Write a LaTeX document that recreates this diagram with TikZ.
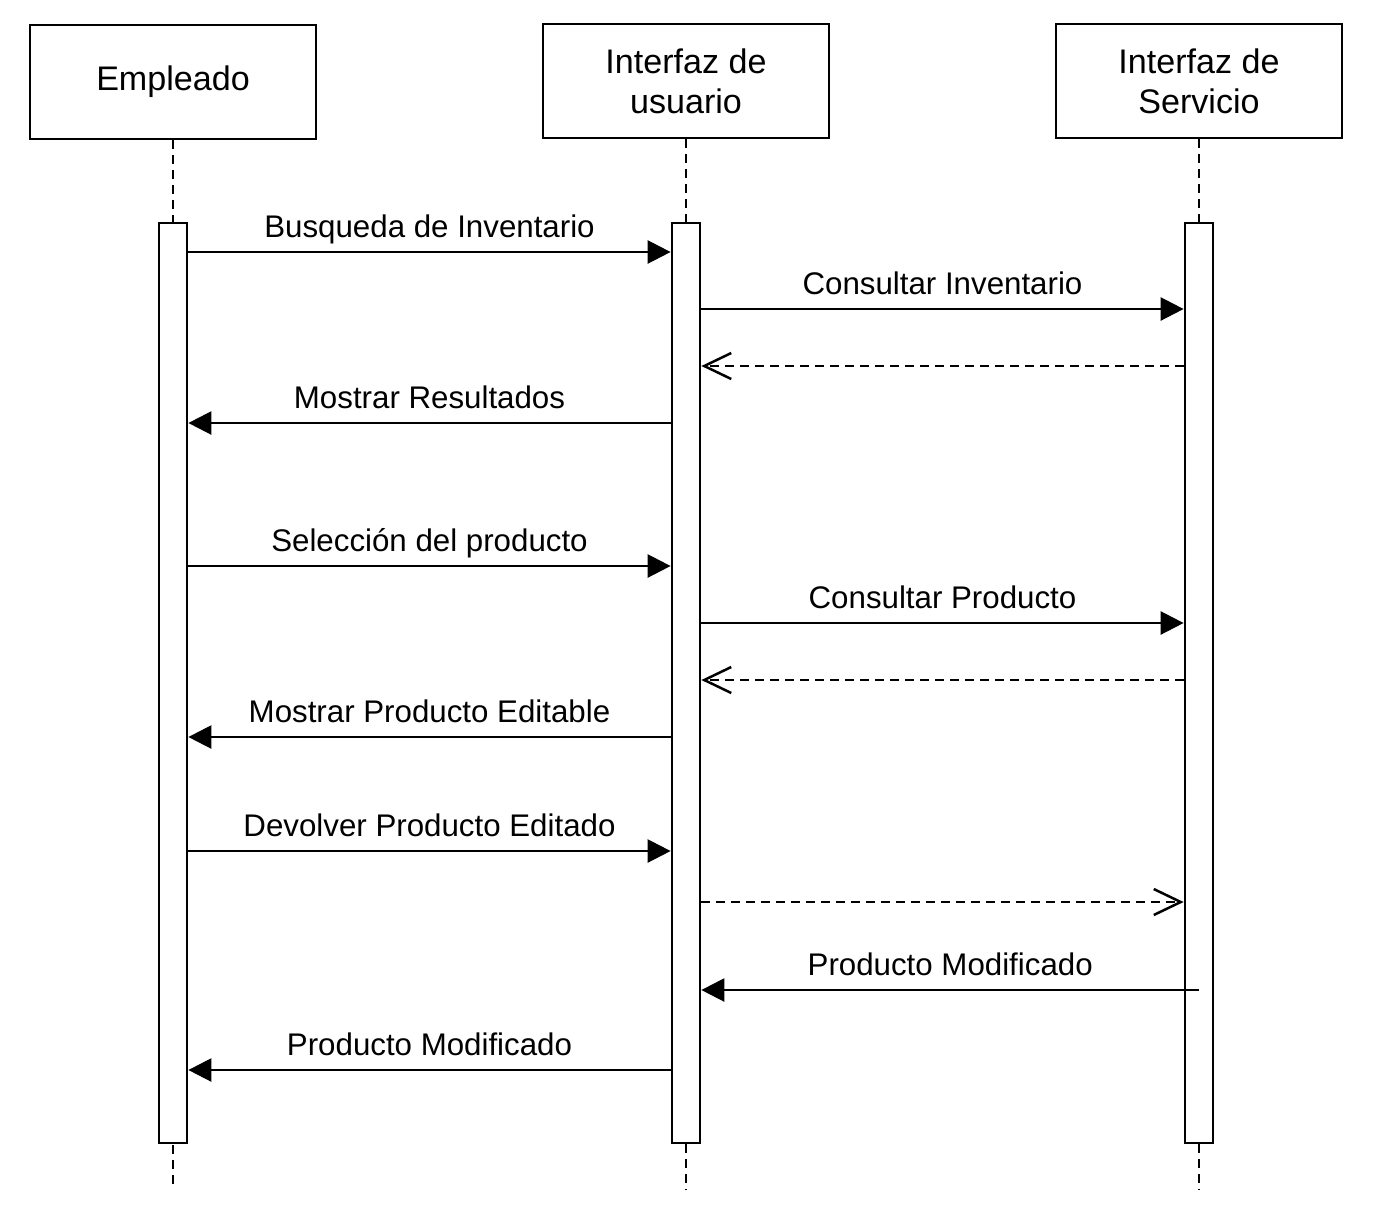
\documentclass[tikz,border=0pt]{standalone}
\usepackage{fontspec}
\setmainfont{Liberation Sans}
\usetikzlibrary{arrows.meta}

\begin{document}
\begin{tikzpicture}[x=0.02cm,y=-0.02cm,
  actor/.style={draw,line width=0.055cm,minimum width=5.72cm,minimum height=2.28cm,align=center,font=\fontsize{19.4}{22.8}\selectfont},
  bar/.style={draw,fill=white,line width=0.055cm,minimum width=0.56cm,minimum height=18.4cm,inner sep=0pt},
  life/.style={line width=0.05cm,dash pattern=on 0.18cm off 0.12cm},
  call/.style={line width=0.05cm,-{Triangle[length=0.46cm,width=0.46cm]}},
  reply/.style={line width=0.05cm,dash pattern=on 0.18cm off 0.12cm,-{Straight Barb[length=0.54cm,width=0.52cm,line width=0.05cm]}},
  lbl/.style={anchor=base,yshift=0.3cm,inner sep=0pt,font=\fontsize{17.8}{20}\selectfont}]
%\draw[style=help lines] (0,0) grid (1390,1225);
\useasboundingbox (0,0) rectangle (1390,1225);

\node[actor] (emp) at (173,82) {Empleado};
\node[actor] (ui) at (686,81) {Interfaz de\\usuario};
\node[actor] (srv) at (1199,81) {Interfaz de\\Servicio};

\coordinate (empend) at (173,1190);
\coordinate (uiend) at (686,1190);
\coordinate (srvend) at (1199,1190);
\draw[life] (emp.south) -- (empend);
\draw[life] (ui.south) -- (uiend);
\draw[life] (srv.south) -- (srvend);

\node[bar] (empbar) at (173,683) {};
\node[bar] (uibar) at (686,683) {};
\node[bar] (srvbar) at (1199,683) {};

\coordinate (m1) at (0,252);
\coordinate (m2) at (0,309);
\coordinate (m3) at (0,366);
\coordinate (m4) at (0,423);
\coordinate (m5) at (0,566);
\coordinate (m6) at (0,623);
\coordinate (m7) at (0,680);
\coordinate (m8) at (0,737);
\coordinate (m9) at (0,851);
\coordinate (m10) at (0,902);
\coordinate (m11) at (0,990);
\coordinate (m12) at (0,1070);

\draw[call] (empbar.east |- m1) -- node[lbl]{Busqueda de Inventario} (uibar.west |- m1);
\draw[call] (uibar.east |- m2) -- node[lbl]{Consultar Inventario} (srvbar.west |- m2);
\draw[reply] (srvbar.west |- m3) -- (uibar.east |- m3);
\draw[call] (uibar.west |- m4) -- node[lbl]{Mostrar Resultados} (empbar.east |- m4);

\draw[call] (empbar.east |- m5) -- node[lbl]{Selección del producto} (uibar.west |- m5);
\draw[call] (uibar.east |- m6) -- node[lbl]{Consultar Producto} (srvbar.west |- m6);
\draw[reply] (srvbar.west |- m7) -- (uibar.east |- m7);
\draw[call] (uibar.west |- m8) -- node[lbl]{Mostrar Producto Editable} (empbar.east |- m8);

\draw[call] (empbar.east |- m9) -- node[lbl]{Devolver Producto Editado} (uibar.west |- m9);
\draw[reply] (uibar.east |- m10) -- (srvbar.west |- m10);
\draw[call] (srvbar.center |- m11) -- node[lbl]{Producto Modificado} (uibar.east |- m11);
\draw[call] (uibar.west |- m12) -- node[lbl]{Producto Modificado} (empbar.east |- m12);

\end{tikzpicture}
\end{document}
